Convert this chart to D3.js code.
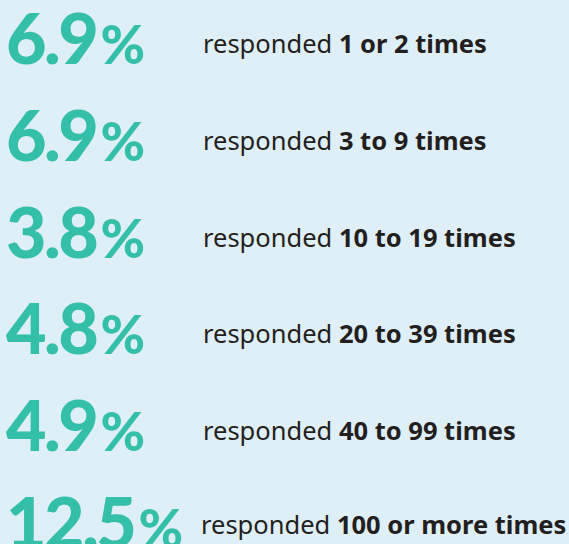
<!DOCTYPE html>
<html>
<head>
<meta charset="utf-8">
<script src="https://cdn.jsdelivr.net/npm/d3@7"></script>
<style>
  html, body { margin: 0; padding: 0; background: #dfeff8; }
  svg { display: block; }
</style>
</head>
<body>
<script>
// Data
const categories = ["1 or 2 times", "3 to 9 times", "10 to 19 times", "20 to 39 times", "40 to 99 times", "100 or more times"];
const percents = [6.9, 6.9, 3.8, 4.8, 4.9, 12.5];
const prefixLabel = "responded ";

const W = 569, H = 544;
const svg = d3.select("body").append("svg").attr("width", W).attr("height", H);
svg.append("rect").attr("width", W).attr("height", H).attr("fill", "#dfeff8");

const y = d3.scalePoint().domain(categories).range([64, 548]);
const fmt = d3.format(".1f");

const rows = svg.selectAll("g.row")
  .data(categories.map((c, i) => ({ cat: c, pct: percents[i] })))
  .join("g").attr("class", "row")
  .attr("transform", d => `translate(0,${y(d.cat)})`);

const num = rows.append("text")
  .attr("x", 6)
  .attr("y", 0)
  .attr("fill", "#34bfa9")
  .style("font-family", "Lato, 'Noto Sans', sans-serif")
  .style("font-weight", "900");
num.append("tspan").text(d => fmt(d.pct))
  .style("font-size", "70px")
  .style("letter-spacing", "-2.5px");
num.append("tspan").text("%")
  .attr("dx", 4)
  .style("font-size", "54px");

const lab = rows.append("text")
  .attr("x", d => d.cat.startsWith("100") ? 201 : 203)
  .attr("y", d => d.cat.startsWith("100") ? -14 : -11)
  .attr("fill", "#231f20")
  .style("font-family", "'Noto Sans', sans-serif")
  .style("font-size", "25.5px")
  .style("letter-spacing", "0px");
lab.append("tspan").text(prefixLabel).style("font-weight", "400");
lab.append("tspan").text(d => d.cat).style("font-weight", "700");
</script>
</body>
</html>
